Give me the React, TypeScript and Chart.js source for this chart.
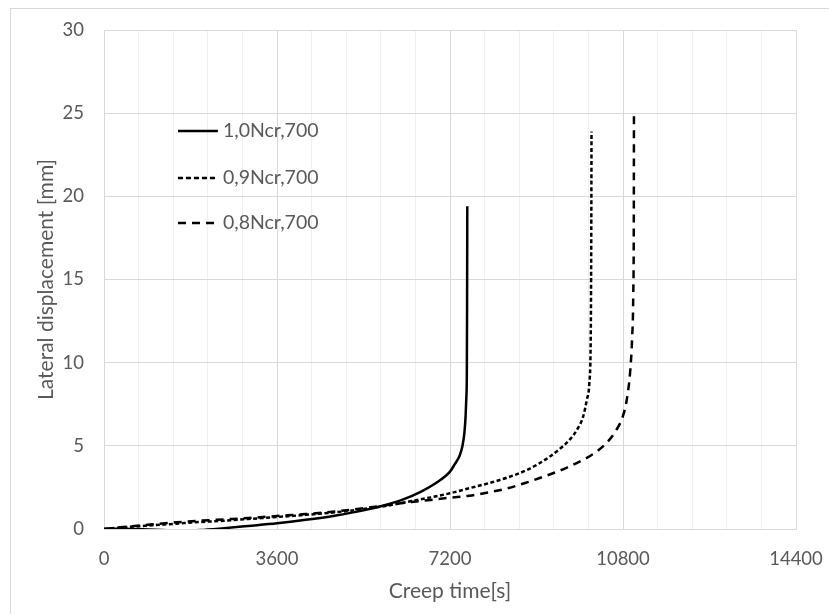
import React, { useEffect, useRef } from "react";
import { Chart, registerables } from "chart.js";

Chart.register(...registerables);

const seriesLabels = ["1,0Ncr,700", "0,9Ncr,700", "0,8Ncr,700"];

const t10 = [0, 400, 800, 1200, 1600, 2000, 2500, 3000, 3600, 4200, 4800, 5400, 5800, 6200, 6600, 6900, 7200, 7300, 7400, 7460, 7500, 7525, 7540, 7550, 7555, 7560];
const y10 = [0, 0.02, -0.02, -0.06, -0.08, -0.06, 0.05, 0.18, 0.34, 0.55, 0.8, 1.12, 1.4, 1.75, 2.25, 2.75, 3.45, 3.9, 4.4, 5.0, 5.8, 6.8, 7.9, 9.2, 13.0, 19.4];

const t09 = [0, 500, 1000, 1500, 2000, 2500, 3000, 3600, 4200, 4800, 5400, 6000, 6400, 6800, 7200, 7600, 8000, 8400, 8800, 9200, 9500, 9700, 9850, 9970, 10050, 10100, 10130, 10140, 10145];
const y09 = [0, 0.12, 0.22, 0.32, 0.42, 0.5, 0.6, 0.72, 0.85, 1.0, 1.2, 1.45, 1.68, 1.9, 2.15, 2.45, 2.75, 3.1, 3.55, 4.2, 4.85, 5.4, 6.0, 6.75, 7.8, 8.8, 12.0, 18.0, 23.9];

const t08 = [0, 500, 1000, 1500, 2000, 2500, 3000, 3600, 4200, 4800, 5400, 6000, 6400, 6800, 7200, 7600, 8000, 8400, 8800, 9200, 9600, 10000, 10250, 10450, 10650, 10800, 10880, 10950, 10990, 11013, 11025, 11028];
const y08 = [0, 0.15, 0.28, 0.4, 0.5, 0.58, 0.66, 0.78, 0.9, 1.05, 1.25, 1.48, 1.62, 1.75, 1.88, 2.0, 2.2, 2.45, 2.8, 3.2, 3.65, 4.2, 4.65, 5.15, 5.9, 6.8, 7.8, 9.5, 11.5, 14.0, 19.0, 25.1];

const xTicksMajor = [0, 3600, 7200, 10800, 14400];
const yTicks = [0, 5, 10, 15, 20, 25, 30];

const FONT = "Lato, 'Open Sans', sans-serif";
const TEXT = "#595959";

function pts(xs: number[], ys: number[]) {
  return xs.map((x, i) => ({ x, y: ys[i] }));
}

const legendPlugin = {
  id: "insideLegend",
  afterDatasetsDraw(chart: any) {
    const ctx = chart.ctx;
    const xs = chart.scales.x;
    const ys = chart.scales.y;
    const x0 = xs.getPixelForValue(1540);
    const x1 = xs.getPixelForValue(2370);
    const rows = [23.93, 21.1, 18.4];
    ctx.save();
    chart.data.datasets.forEach((ds: any, i: number) => {
      const yy = ys.getPixelForValue(rows[i]);
      ctx.beginPath();
      ctx.strokeStyle = ds.borderColor;
      ctx.lineWidth = ds.borderWidth;
      ctx.setLineDash(i === 0 ? [] : i === 1 ? [5, 3] : [8, 6]);
      ctx.moveTo(x0, yy);
      ctx.lineTo(x1, yy);
      ctx.stroke();
      ctx.setLineDash([]);
      ctx.fillStyle = TEXT;
      ctx.font = `19.5px ${FONT}`;
      ctx.textBaseline = "middle";
      ctx.textAlign = "left";
      ctx.fillText(ds.label, x1 + 5, yy);
    });
    ctx.restore();
  },
};

export default function App() {
  const ref = useRef<HTMLCanvasElement>(null);
  useEffect(() => {
    if (!ref.current) return;
    const chart = new Chart(ref.current, {
      type: "scatter",
      data: {
        datasets: [
          { label: seriesLabels[0], data: pts(t10, y10), borderDash: [] },
          { label: seriesLabels[1], data: pts(t09, y09), borderDash: [4, 2.5] },
          { label: seriesLabels[2], data: pts(t08, y08), borderDash: [8, 6] },
        ].map((d) => ({
          ...d,
          showLine: true,
          borderColor: "#000000",
          backgroundColor: "#000000",
          borderWidth: 2.5,
          pointRadius: 0,
          cubicInterpolationMode: "monotone" as const,
        })),
      },
      options: {
        animation: false,
        responsive: false,
        maintainAspectRatio: false,
        layout: { padding: { top: 30, right: 33, left: 0, bottom: 0 } },
        plugins: { legend: { display: false }, tooltip: { enabled: false } },
        scales: {
          x: {
            type: "linear",
            min: 0,
            max: 14400,
            border: { color: "#d9d9d9", width: 1 },
            grid: {
              drawTicks: false,
              color: (c: any) =>
                c.tick && xTicksMajor.includes(c.tick.value) ? "#d9d9d9" : "#f0f0f0",
              lineWidth: 1,
            },
            ticks: {
              stepSize: 720,
              autoSkip: false,
              maxRotation: 0,
              padding: 19,
              color: TEXT,
              font: { family: FONT, size: 18.5 },
              callback: (v: any) => (xTicksMajor.includes(Number(v)) ? String(v) : ""),
            },
            title: {
              display: true,
              text: "Creep time[s]",
              color: TEXT,
              font: { family: FONT, size: 21 },
              padding: { top: 0, bottom: 10 },
            },
            afterFit: (s: any) => {
              s.height = 85;
              s.paddingLeft = 0;
              s.paddingRight = 0;
            },
          },
          y: {
            type: "linear",
            min: 0,
            max: 30,
            border: { color: "#d9d9d9", width: 1 },
            grid: { drawTicks: false, color: "#d9d9d9", lineWidth: 1 },
            ticks: {
              stepSize: 5,
              padding: 20,
              color: TEXT,
              font: { family: FONT, size: 18.5 },
              callback: (v: any) => (yTicks.includes(Number(v)) ? String(v) : ""),
            },
            title: {
              display: true,
              text: "Lateral displacement [mm]",
              color: TEXT,
              font: { family: FONT, size: 21 },
              padding: { top: 34, bottom: 0 },
            },
            afterFit: (s: any) => {
              s.width = 104;
              s.paddingTop = 0;
              s.paddingBottom = 0;
            },
          },
        },
      },
      plugins: [legendPlugin],
    });
    return () => chart.destroy();
  }, []);

  return (
    <div style={{ position: "absolute", left: 0, top: 0, width: 829, height: 614, background: "#fff" }}>
      <div
        style={{
          position: "absolute",
          left: 10,
          top: 8,
          width: 840,
          height: 640,
          border: "1px solid #d9d9d9",
          boxSizing: "border-box",
        }}
      />
      <canvas ref={ref} width={829} height={614} style={{ position: "absolute", left: 0, top: 0 }} />
    </div>
  );
}
